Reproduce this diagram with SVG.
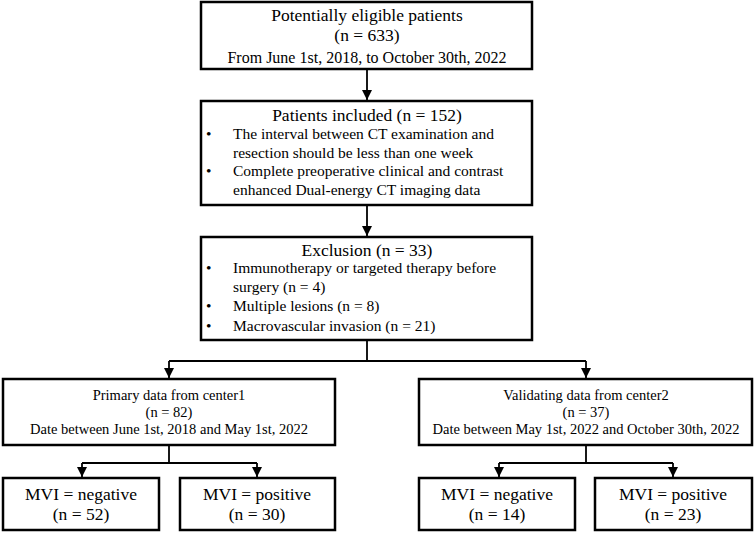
<svg xmlns="http://www.w3.org/2000/svg" width="755" height="534" viewBox="0 0 755 534">
<style>
.box{fill:#fff;stroke:#000;stroke-width:2.5}
.ln{fill:none;stroke:#000;stroke-width:1.8}
text{font-family:"Liberation Serif","DejaVu Serif",serif;fill:#000}
.t{font-size:17.5px;text-anchor:middle}
.b{font-size:15.5px}
.c{font-size:16px;text-anchor:middle}
.s{font-size:14.5px;text-anchor:middle}
</style>
<defs>
<marker id="ah" markerWidth="10" markerHeight="10" refX="10" refY="5" orient="auto" markerUnits="userSpaceOnUse">
<path d="M0,0 L10,5 L0,10 Z" fill="#000"/>
</marker>
</defs>
<g font-family="Liberation Serif, DejaVu Serif, serif">
<g id="connectors">
<line class="ln" x1="367" y1="69" x2="367" y2="100" marker-end="url(#ah)"/>
<line class="ln" x1="367" y1="205" x2="367" y2="236" marker-end="url(#ah)"/>
<line class="ln" x1="367" y1="340" x2="367" y2="361"/>
<polyline class="ln" points="169,361 586,361"/>
<line class="ln" x1="169" y1="361" x2="169" y2="378" marker-end="url(#ah)"/>
<line class="ln" x1="586" y1="361" x2="586" y2="378" marker-end="url(#ah)"/>
<line class="ln" x1="169" y1="445" x2="169" y2="463"/>
<polyline class="ln" points="82,463 257,463"/>
<line class="ln" x1="82" y1="463" x2="82" y2="477" marker-end="url(#ah)"/>
<line class="ln" x1="257" y1="463" x2="257" y2="477" marker-end="url(#ah)"/>
<line class="ln" x1="586" y1="445" x2="586" y2="463"/>
<polyline class="ln" points="499,463 673,463"/>
<line class="ln" x1="499" y1="463" x2="499" y2="477" marker-end="url(#ah)"/>
<line class="ln" x1="673" y1="463" x2="673" y2="477" marker-end="url(#ah)"/>
</g>
<g id="eligible">
<rect class="box" x="201" y="2" width="331" height="67"/>
<text class="t" x="367" y="21">Potentially eligible patients</text>
<text class="t" x="367" y="41">(n = 633)</text>
<text class="c" x="367" y="63">From June 1st, 2018, to October 30th, 2022</text>
</g>
<g id="included">
<rect class="box" x="201" y="101" width="331" height="104"/>
<text class="t" x="367" y="121">Patients included (n = 152)</text>
<text class="b" x="206" y="139">•</text>
<text class="b" x="233" y="139">The interval between CT examination and</text>
<text class="b" x="233" y="158">resection should be less than one week</text>
<text class="b" x="206" y="176">•</text>
<text class="b" x="233" y="176">Complete preoperative clinical and contrast</text>
<text class="b" x="233" y="195">enhanced Dual-energy CT imaging data</text>
</g>
<g id="exclusion">
<rect class="box" x="201" y="237" width="331" height="103"/>
<text class="t" x="367" y="256">Exclusion (n = 33)</text>
<text class="b" x="206" y="273">•</text>
<text class="b" x="233" y="273">Immunotherapy or targeted therapy before</text>
<text class="b" x="233" y="292">surgery (n = 4)</text>
<text class="b" x="206" y="311">•</text>
<text class="b" x="233" y="311">Multiple lesions (n = 8)</text>
<text class="b" x="206" y="331">•</text>
<text class="b" x="233" y="331">Macrovascular invasion (n = 21)</text>
</g>
<g id="primary">
<rect class="box" x="3" y="379" width="332" height="66"/>
<text class="s" x="169" y="400">Primary data from center1</text>
<text class="s" x="169" y="417">(n = 82)</text>
<text class="s" x="169" y="434">Date between June 1st, 2018 and May 1st, 2022</text>
</g>
<g id="validating">
<rect class="box" x="419" y="379" width="333" height="66"/>
<text class="s" x="586" y="400">Validating data from center2</text>
<text class="s" x="586" y="417">(n = 37)</text>
<text class="s" x="586" y="434">Date between May 1st, 2022 and October 30th, 2022</text>
</g>
<g id="p-neg">
<rect class="box" x="3" y="478" width="156" height="52"/>
<text class="t" x="81" y="500">MVI = negative</text>
<text class="t" x="81" y="520">(n = 52)</text>
</g>
<g id="p-pos">
<rect class="box" x="180" y="478" width="155" height="52"/>
<text class="t" x="257" y="500">MVI = positive</text>
<text class="t" x="257" y="520">(n = 30)</text>
</g>
<g id="v-neg">
<rect class="box" x="419" y="478" width="156" height="52"/>
<text class="t" x="497" y="500">MVI = negative</text>
<text class="t" x="497" y="520">(n = 14)</text>
</g>
<g id="v-pos">
<rect class="box" x="595" y="478" width="157" height="52"/>
<text class="t" x="673" y="500">MVI = positive</text>
<text class="t" x="673" y="520">(n = 23)</text>
</g>
</g>
</svg>
